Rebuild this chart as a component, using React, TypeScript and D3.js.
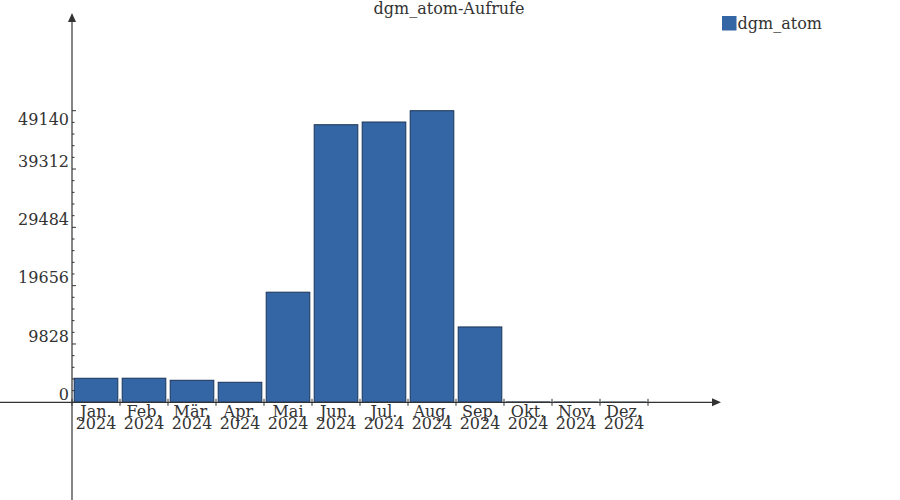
import React from "react";
import * as d3 from "d3";

const months = ["Jan.", "Feb.", "Mär.", "Apr.", "Mai", "Jun.", "Jul.", "Aug.", "Sep.", "Okt.", "Nov.", "Dez."];
const years = ["2024", "2024", "2024", "2024", "2024", "2024", "2024", "2024", "2024", "2024", "2024", "2024"];
const values = [4049, 4060, 3711, 3374, 18556, 46778, 47233, 49140, 12700, 60, 45, 35];
const yTicks = [0, 9828, 19656, 29484, 39312, 49140];
const seriesName = "dgm_atom";
const title = "dgm_atom-Aufrufe";

const W = 900;
const H = 500;
const FONT = "'DejaVu Serif', serif";
const AX = "#333333";
const FILL = "#3465a4";
const STROKE = "#1c3456";
const FS = 16;

export default function App() {
  const x0 = 72;
  const y0 = 402.3;
  const x = d3.scaleBand<string>().domain(months).range([72, 648]).padding(0);
  const y = d3.scaleLinear().domain([0, 49140]).range([y0, 110.7]);
  const bw = x.bandwidth();

  const minor: number[] = [];
  for (let i = 0; i < yTicks.length - 1; i++) {
    const a = yTicks[i], b = yTicks[i + 1];
    for (let k = 1; k < 5; k++) minor.push(a + ((b - a) * k) / 5);
  }
  const bounds = months.map((m) => x(m) as number).concat([648]);

  return (
    <svg width={W} height={H} style={{ position: "absolute", left: 0, top: 0, background: "#fff" }} fontFamily={FONT}>
      <text x={449} y={14} textAnchor="middle" fontSize={FS} fill={AX}>{title}</text>

      {/* bars */}
      {values.map((v, i) => (
        <rect
          key={i}
          x={(x(months[i]) as number) + 2.2}
          y={y(v)}
          width={bw - 4.4}
          height={y0 - y(v)}
          fill={FILL}
          stroke={STROKE}
          strokeWidth={1}
        />
      ))}

      {/* y axis */}
      <line x1={x0} x2={x0} y1={20} y2={H} stroke={AX} strokeWidth={1.2} />
      <path d={`M${x0},13 L${x0 - 4},22 L${x0 + 4},22 Z`} fill={AX} />
      {yTicks.map((t) => (
        <line key={"t" + t} x1={x0} x2={x0 + 4} y1={y(t)} y2={y(t)} stroke={AX} strokeWidth={1} />
      ))}
      {minor.map((t, i) => (
        <line key={"m" + i} x1={x0} x2={x0 + 2.5} y1={y(t)} y2={y(t)} stroke={AX} strokeWidth={1} />
      ))}
      {yTicks.map((t, i) => (
        <text
          key={"l" + t}
          x={69}
          y={i === yTicks.length - 1 ? y(t) + 14.3 : y(t) - 2.3}
          textAnchor="end"
          fontSize={FS}
          fill={AX}
        >
          {t}
        </text>
      ))}

      {/* x axis */}
      <line x1={0} x2={714} y1={y0} y2={y0} stroke={AX} strokeWidth={1.2} />
      <path d={`M721,${y0} L712,${y0 - 4} L712,${y0 + 4} Z`} fill={AX} />
      {bounds.map((b, i) => (
        <line key={"xb" + i} x1={b} x2={b} y1={y0 - 3.5} y2={y0 + 3.5} stroke={AX} strokeWidth={1} />
      ))}
      {months.map((m, i) => {
        const cx = (x(m) as number) + bw / 2;
        return (
          <text key={"xl" + i} x={cx} y={416.7} textAnchor="middle" fontSize={FS} fill={AX}>
            <tspan x={cx}>{m}</tspan>
            <tspan x={cx} dy={12.6}>{years[i]}</tspan>
          </text>
        );
      })}

      {/* legend */}
      <rect x={722} y={16} width={14.5} height={14.5} fill={FILL} />
      <text x={737.5} y={29.3} fontSize={FS} fill={AX}>{seriesName}</text>
    </svg>
  );
}
